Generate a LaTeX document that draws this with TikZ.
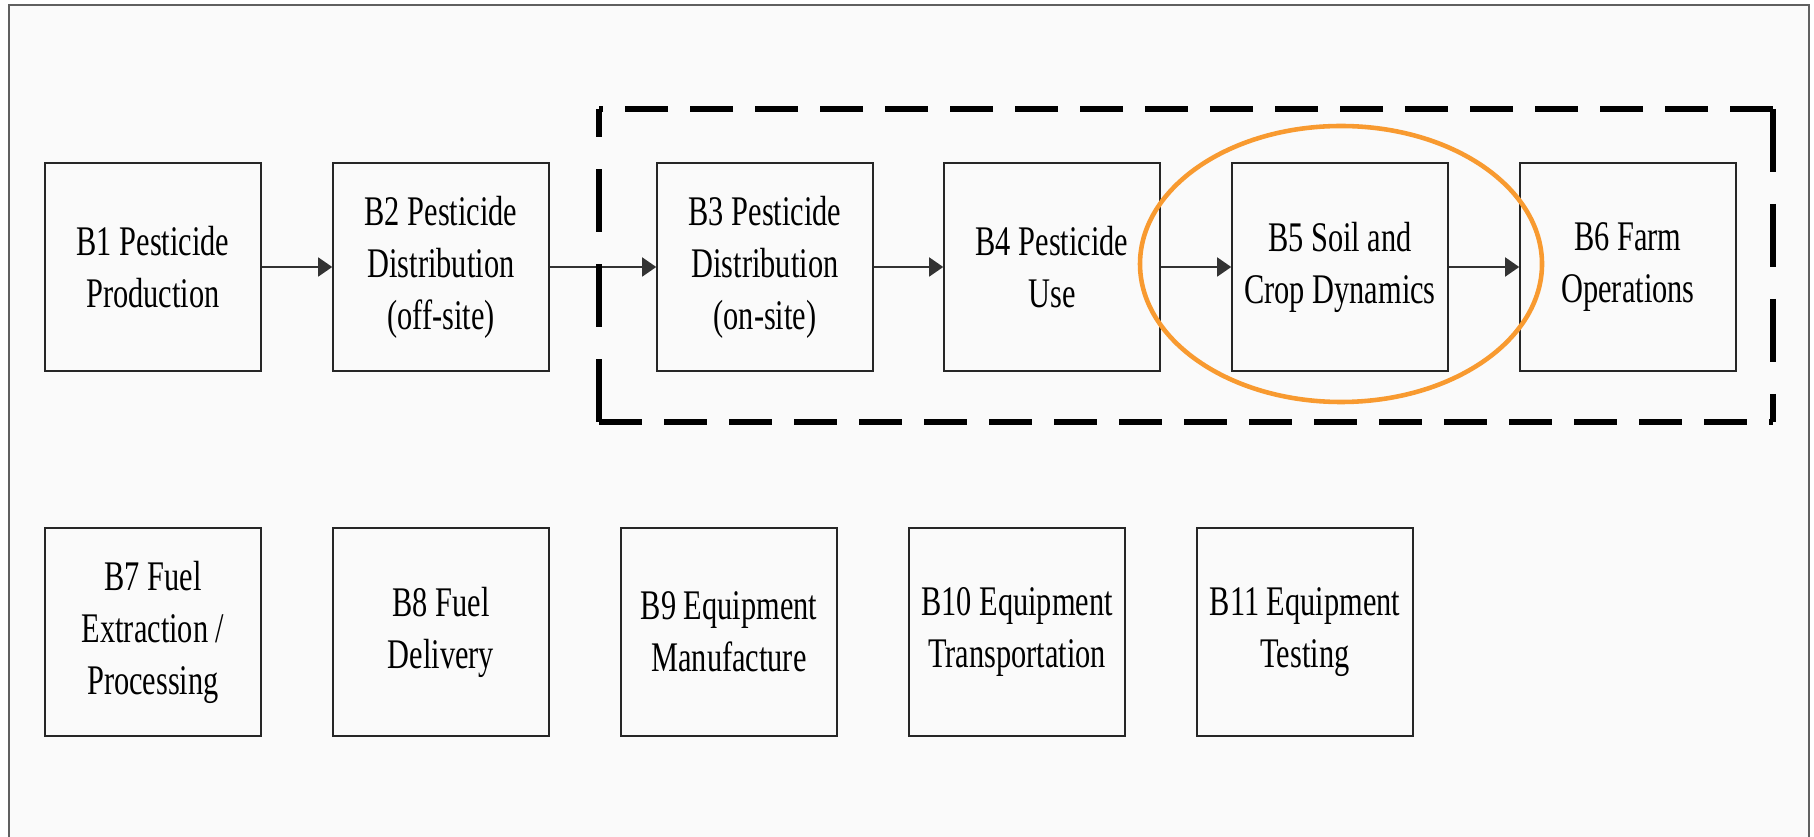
\documentclass[tikz,border=0pt]{standalone}
\usepackage{fontspec}
\setmainfont[FakeStretch=0.72]{Liberation Serif}
\usetikzlibrary{arrows.meta}
\definecolor{lcaframe}{HTML}{606060}
\definecolor{lcaback}{HTML}{FAFAFA}
\definecolor{lcafocus}{HTML}{F89A30}

\begin{document}
\begin{tikzpicture}[x=0.1mm, y=-0.1mm,
    stage/.style={rectangle, draw=black!85, line width=0.45pt, minimum width=21.6mm, minimum height=20.8mm,
        inner sep=0pt, align=center, font=\fontsize{12}{14.8}\selectfont},
    flow/.style={-{Triangle[length=1.4mm, width=1.9mm]}, line width=0.45pt, draw=black!80},
    bound/.style={line width=1.45pt, draw=black},
    hbound/.style={bound, dash pattern=on 4.3mm off 2.2mm},
    vbound/.style={bound, dash pattern=on 6.3mm off 3.2mm}]
            \useasboundingbox (0,0) rectangle (1814,837);

            % Frame
            \fill[lcaback] (9,5) rectangle (1809,837);
            \draw[lcaframe, line width=0.5pt] (9,837) -- (9,5) -- (1809,5) -- (1809,837);

            % Pesticide chain
            \node[stage] (b1) at (153,267) {B1 Pesticide\\Production};
            \node[stage] (b2) at (441,267) {B2 Pesticide\\Distribution\\(off-site)};
            \node[stage] (b3) at (765,267) {B3 Pesticide\\Distribution\\(on-site)};
            \node[stage] (b4) at (1052,267) {B4 Pesticide\\Use};
            \node[stage] (b5) at (1340,267) {B5 Soil and\\Crop Dynamics};
            \node[stage] (b6) at (1628,267) {B6 Farm\\Operations};

            \draw[flow] (b1) -- (b2);
            \draw[flow] (b2) -- (b3);
            \draw[flow] (b3) -- (b4);
            \draw[flow] (b4) -- (b5);
            \draw[flow] (b5) -- (b6);

            % Fuel and equipment
            \node[stage] (b7) at (153,632) {B7 Fuel\\Extraction /\\Processing};
            \node[stage] (b8) at (441,632) {B8 Fuel\\Delivery};
            \node[stage] (b9) at (729,632) {B9 Equipment\\Manufacture};
            \node[stage] (b10) at (1017,632) {B10 Equipment\\Transportation};
            \node[stage] (b11) at (1305,632) {B11 Equipment\\Testing};

            % System boundary
            \coordinate (bndSW) at (599,422);
            \coordinate (bndNW) at (599,109);
            \coordinate (bndNE) at (1773,109);
            \coordinate (bndSE) at (1773,422);
            \draw[hbound] (bndSW) -- (bndSE);
            \draw[hbound] (bndNE) -- (bndNW);
            \draw[vbound] (bndSW) -- (bndNW);
            \draw[vbound] (bndNE) -- (bndSE);

            % Focus
            \draw[lcafocus, line width=1.3pt] (1341,264) ellipse [x radius=201, y radius=138];
        \end{tikzpicture}
\end{document}
